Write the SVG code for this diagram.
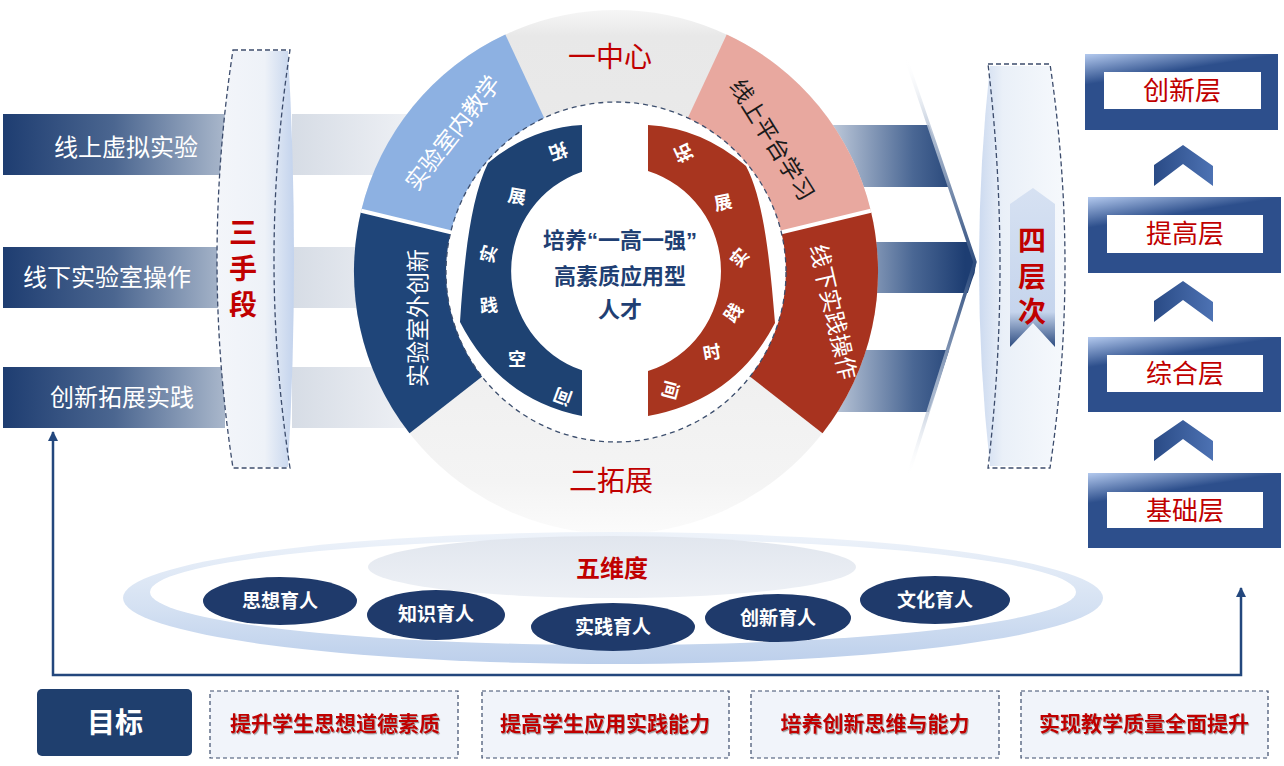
<svg xmlns="http://www.w3.org/2000/svg" width="1284" height="766" viewBox="0 0 1284 766">
<defs>
<style>
.cjk{font-family:"Liberation Sans","Noto Sans CJK SC",sans-serif;}
.wt{fill:#ffffff;}
.rd{fill:#c00000;}
.nv{fill:#1f3f73;}
.c{text-anchor:middle;dominant-baseline:central;}
.b{font-weight:bold;}
</style>
<linearGradient id="gLeftBar" gradientUnits="userSpaceOnUse" x1="3" y1="0" x2="225" y2="0">
<stop offset="0" stop-color="#1e3d71"/><stop offset="0.5" stop-color="#4b6690"/><stop offset="1" stop-color="#a9b7cb"/>
</linearGradient>
<linearGradient id="gGrayBar" gradientUnits="userSpaceOnUse" x1="292" y1="0" x2="420" y2="0">
<stop offset="0" stop-color="#d6dce5"/><stop offset="1" stop-color="#f0f2f6"/>
</linearGradient>
<linearGradient id="gRightBar" gradientUnits="userSpaceOnUse" x1="835" y1="0" x2="965" y2="0">
<stop offset="0" stop-color="#b9c5d7"/><stop offset="0.6" stop-color="#4a6794"/><stop offset="1" stop-color="#1d3d72"/>
</linearGradient>
<linearGradient id="gEdge" gradientUnits="userSpaceOnUse" x1="0" y1="58" x2="0" y2="476">
<stop offset="0" stop-color="#ffffff" stop-opacity="0"/><stop offset="0.2" stop-color="#a9b8ce"/><stop offset="0.5" stop-color="#2b4a7c"/><stop offset="0.8" stop-color="#a9b8ce"/><stop offset="1" stop-color="#ffffff" stop-opacity="0"/>
</linearGradient>
<linearGradient id="gRing" gradientUnits="userSpaceOnUse" x1="0" y1="10" x2="0" y2="534">
<stop offset="0" stop-color="#f6f6f6"/><stop offset="0.05" stop-color="#e8e8e8"/><stop offset="0.5" stop-color="#ececec"/><stop offset="0.9" stop-color="#f4f4f4"/><stop offset="1" stop-color="#fbfbfb"/>
</linearGradient>
<linearGradient id="gLensL" gradientUnits="userSpaceOnUse" x1="210" y1="0" x2="294" y2="0">
<stop offset="0" stop-color="#f4f6fa"/><stop offset="0.65" stop-color="#eef2f8"/><stop offset="1" stop-color="#c3d3ed"/>
</linearGradient>
<linearGradient id="gLensR" gradientUnits="userSpaceOnUse" x1="972" y1="0" x2="1060" y2="0">
<stop offset="0" stop-color="#c3d3ed"/><stop offset="0.35" stop-color="#eaf0f8"/><stop offset="1" stop-color="#f5f8fc"/>
</linearGradient>
<linearGradient id="gUpArrow" x1="0" y1="0" x2="0" y2="1">
<stop offset="0" stop-color="#d6e1f2"/><stop offset="0.78" stop-color="#c6d5ed"/><stop offset="1" stop-color="#2c4b80"/>
</linearGradient>
<linearGradient id="gBox" x1="0" y1="0" x2="0.14" y2="0.35">
<stop offset="0" stop-color="#b3c9ee"/><stop offset="1" stop-color="#2d4f8c"/>
</linearGradient>
<linearGradient id="gChev" x1="0" y1="0" x2="1" y2="0">
<stop offset="0" stop-color="#2a4b86"/><stop offset="1" stop-color="#4d72b3"/>
</linearGradient>
<linearGradient id="gOuterEll" x1="0" y1="0" x2="0" y2="1">
<stop offset="0" stop-color="#eef3fa"/><stop offset="0.6" stop-color="#d3e0f2"/><stop offset="1" stop-color="#bccfeb"/>
</linearGradient>
<linearGradient id="gWei" x1="0" y1="0" x2="0" y2="1">
<stop offset="0" stop-color="#e1e6ee"/><stop offset="1" stop-color="#eef1f6"/>
</linearGradient>
<clipPath id="clipArrow">
<path d="M820,58 L906,58 L972,252 Q979,266 972,280 L908,476 L820,476 Z"/>
</clipPath>
<filter id="sh" x="-10%" y="-30%" width="120%" height="160%">
<feDropShadow dx="1" dy="1.2" stdDeviation="0.6" flood-color="#555555" flood-opacity="0.55"/>
</filter>
<marker id="ah" viewBox="0 0 10 10" refX="9" refY="5" markerWidth="11" markerHeight="10" markerUnits="userSpaceOnUse" orient="auto-start-reverse">
<path d="M0,0 L10,5 L0,10 Z" fill="#23477d"/>
</marker>
</defs>

<rect x="0" y="0" width="1284" height="766" fill="#ffffff"/>

<!-- background bars (gray extensions behind circle) -->
<g id="bars-back">
<rect x="292" y="114" width="130" height="61" fill="url(#gGrayBar)"/>
<rect x="292" y="247" width="130" height="61" fill="url(#gGrayBar)"/>
<rect x="292" y="367" width="130" height="61" fill="url(#gGrayBar)"/>
<g clip-path="url(#clipArrow)">
<rect x="820" y="125" width="170" height="62" fill="url(#gRightBar)"/>
<rect x="820" y="242" width="170" height="51" fill="url(#gRightBar)"/>
<rect x="820" y="350" width="170" height="62" fill="url(#gRightBar)"/>
</g>
<polyline points="906,58 975,262 908,476" fill="none" stroke="url(#gEdge)" stroke-width="3.5" stroke-linejoin="round"/>
</g>

<!-- left means -->
<g id="means-online" class="cjk">
<rect x="3" y="114" width="222" height="61" fill="url(#gLeftBar)"/>
<text x="126" y="147" class="c wt" font-size="24">线上虚拟实验</text>
</g>
<g id="means-offline" class="cjk">
<rect x="3" y="247" width="222" height="61" fill="url(#gLeftBar)"/>
<text x="107" y="277" class="c wt" font-size="24">线下实验室操作</text>
</g>
<g id="means-innov" class="cjk">
<rect x="3" y="367" width="222" height="61" fill="url(#gLeftBar)"/>
<text x="122" y="397" class="c wt" font-size="24">创新拓展实践</text>
</g>

<g id="lens-three" class="cjk">
<path d="M233,51 Q201,260 233,467 L288,467 Q300,260 288,51 Z" fill="url(#gLensL)"/>
<path d="M233,50 L290,50 Q258,260 290,468 L233,468 Q201,260 233,50 Z" fill="none" stroke="#3c4c6c" stroke-width="1.3" stroke-dasharray="5,3"/>
<text class="c rd b" font-size="28"><tspan x="243" y="233">三</tspan><tspan x="243" y="269">手</tspan><tspan x="243" y="305">段</tspan></text>
</g>

<!-- central circle -->
<g id="ring" class="cjk">
<circle cx="616" cy="272" r="262" fill="url(#gRing)"/>
<path d="M616,272 L409.5,433.3 A262,262 0 0 1 361.2,210.8 Z" fill="#1f4579"/>
<path d="M616,272 L361.2,210.8 A262,262 0 0 1 505.3,34.5 Z" fill="#8db1e2"/>
<path d="M616,272 L726.7,34.5 A262,262 0 0 1 870.8,210.8 Z" fill="#e8a89f"/>
<path d="M616,272 L870.8,210.8 A262,262 0 0 1 822.5,433.3 Z" fill="#a8331f"/>
<line x1="616" y1="272" x2="361.2" y2="210.8" stroke="#ffffff" stroke-width="4"/>
<line x1="616" y1="272" x2="870.8" y2="210.8" stroke="#ffffff" stroke-width="4"/>
<text x="610" y="57" class="c rd" font-size="28">一中心</text>
<text x="611" y="481" class="c rd" font-size="28">二拓展</text>
<text transform="translate(453,133) rotate(-52)" class="c wt" font-size="23">实验室内教学</text>
<text transform="translate(418,318) rotate(-90)" class="c wt" font-size="23">实验室外创新</text>
<text transform="translate(772,140) rotate(58)" class="c" fill="#1a1a1a" font-size="23">线上平台学习</text>
<text transform="translate(833,312) rotate(77)" class="c wt" font-size="23">线下实践操作</text>
</g>

<g id="center" class="cjk">
<circle cx="616" cy="272" r="170" fill="#ffffff" stroke="#3d4f6e" stroke-width="1.3" stroke-dasharray="5,4"/>
<text x="620" y="240" class="c nv b" font-size="22">培养“一高一强”</text>
<text x="620" y="276" class="c nv b" font-size="22">高素质应用型</text>
<text x="620" y="309" class="c nv b" font-size="22">人才</text>
</g>

<g id="space-arc" class="cjk">
<path d="M582,125 Q530,128 488,163 C470,200 464,262 460,322 Q500,400 582,416 L582,370.3 A105,105 0 0 1 582,171.7 Z" fill="#1e4272"/>
<g class="wt b" font-size="18">
<text transform="translate(558,151) rotate(160)" class="c">拓</text>
<text transform="translate(517,197) rotate(10)" class="c">展</text>
<text transform="translate(489,254) rotate(-75)" class="c">实</text>
<text transform="translate(489,306) rotate(-5)" class="c">践</text>
<text transform="translate(517,360) rotate(0)" class="c">空</text>
<text transform="translate(563,396) rotate(-160)" class="c">间</text>
</g>
</g>

<g id="time-arc" class="cjk">
<path d="M648,125 Q702,128 746,166 C764,200 770,262 775,323 Q735,400 648,416 L648,371 A105,105 0 0 0 648,171 Z" fill="#a8351f"/>
<g class="wt b" font-size="18">
<text transform="translate(684,153) rotate(-115)" class="c">拓</text>
<text transform="translate(723,203) rotate(-12)" class="c">展</text>
<text transform="translate(740,258) rotate(-50)" class="c">实</text>
<text transform="translate(734,313) rotate(-55)" class="c">践</text>
<text transform="translate(712,353) rotate(-10)" class="c">时</text>
<text transform="translate(670,390) rotate(105)" class="c">间</text>
</g>
</g>

<!-- four levels lens -->
<g id="lens-four" class="cjk">
<path d="M990,66 Q968,266 990,466 L1050,466 Q1080,266 1050,66 Z" fill="url(#gLensR)"/>
<path d="M988,64 L1050,64 Q1080,266 1050,468 L988,468 Q1012,266 988,64 Z" fill="none" stroke="#3c4c6c" stroke-width="1.3" stroke-dasharray="5,3"/>
<path d="M1033,188 L1055,204 L1055,347 L1033,323 L1010,347 L1010,204 Z" fill="url(#gUpArrow)"/>
<text class="c rd b" font-size="28"><tspan x="1032" y="241">四</tspan><tspan x="1032" y="277">层</tspan><tspan x="1032" y="312">次</tspan></text>
</g>

<!-- level boxes -->
<g id="level-innov" class="cjk">
<rect x="1085" y="54" width="193" height="76" fill="url(#gBox)"/>
<rect x="1104" y="72" width="157" height="37" fill="#ffffff"/>
<text x="1182" y="91" class="c rd" font-size="26">创新层</text>
</g>
<g id="level-improve" class="cjk">
<rect x="1088" y="197" width="193" height="76" fill="url(#gBox)"/>
<rect x="1107" y="215" width="156" height="38" fill="#ffffff"/>
<text x="1185" y="234" class="c rd" font-size="26">提高层</text>
</g>
<g id="level-comp" class="cjk">
<rect x="1088" y="337" width="193" height="75" fill="url(#gBox)"/>
<rect x="1107" y="355" width="156" height="37" fill="#ffffff"/>
<text x="1185" y="374" class="c rd" font-size="26">综合层</text>
</g>
<g id="level-base" class="cjk">
<rect x="1088" y="473" width="193" height="75" fill="url(#gBox)"/>
<rect x="1107" y="492" width="156" height="36" fill="#ffffff"/>
<text x="1185" y="511" class="c rd" font-size="26">基础层</text>
</g>
<g id="chevrons">
<path d="M1154,165 L1183,145 L1213,166 L1213,186 L1183,164 L1154,186 Z" fill="url(#gChev)"/>
<path d="M1154,301 L1183,281 L1213,302 L1213,322 L1183,300 L1154,322 Z" fill="url(#gChev)"/>
<path d="M1154,440 L1183,420 L1213,441 L1213,461 L1183,439 L1154,461 Z" fill="url(#gChev)"/>
</g>

<!-- five dimensions -->
<g id="five-dims" class="cjk">
<ellipse cx="613" cy="598" rx="490" ry="66" fill="url(#gOuterEll)"/>
<ellipse cx="613" cy="592" rx="463" ry="53" fill="#ffffff"/>
<ellipse cx="612" cy="567" rx="244" ry="31" fill="url(#gWei)"/>
<text x="612" y="568" class="c rd b" font-size="24">五维度</text>
</g>
<g id="dim-1" class="cjk"><ellipse cx="280" cy="601" rx="77" ry="24" fill="#1f3a6b"/><text x="280" y="601" class="c wt b" font-size="19">思想育人</text></g>
<g id="dim-2" class="cjk"><ellipse cx="436" cy="615" rx="69" ry="25" fill="#1f3a6b"/><text x="436" y="614" class="c wt b" font-size="19">知识育人</text></g>
<g id="dim-3" class="cjk"><ellipse cx="613" cy="627" rx="82" ry="24" fill="#1f3a6b"/><text x="613" y="627" class="c wt b" font-size="19">实践育人</text></g>
<g id="dim-4" class="cjk"><ellipse cx="778" cy="618" rx="73" ry="24" fill="#1f3a6b"/><text x="778" y="618" class="c wt b" font-size="19">创新育人</text></g>
<g id="dim-5" class="cjk"><ellipse cx="935" cy="600" rx="75" ry="24" fill="#1f3a6b"/><text x="935" y="600" class="c wt b" font-size="19">文化育人</text></g>

<!-- connectors -->
<g id="connectors" fill="none" stroke="#23477d" stroke-width="2.5">
<path d="M53,432 L53,675 L1241,675 L1241,588" marker-start="url(#ah)" marker-end="url(#ah)"/>
</g>

<!-- goals -->
<g id="goal-title" class="cjk">
<rect x="37" y="689" width="155" height="67" rx="5" fill="#1f3f6e"/>
<text x="115" y="723" class="c wt b" font-size="28">目标</text>
</g>
<g id="goal-1" class="cjk">
<rect x="210" y="691" width="248" height="67" fill="#f1f4fa" stroke="#3c4c6c" stroke-width="1.2" stroke-dasharray="4,3"/>
<text x="335" y="723" class="c rd b" font-size="21" filter="url(#sh)">提升学生思想道德素质</text>
</g>
<g id="goal-2" class="cjk">
<rect x="482" y="691" width="247" height="67" fill="#f1f4fa" stroke="#3c4c6c" stroke-width="1.2" stroke-dasharray="4,3"/>
<text x="605" y="723" class="c rd b" font-size="21" filter="url(#sh)">提高学生应用实践能力</text>
</g>
<g id="goal-3" class="cjk">
<rect x="751" y="691" width="248" height="67" fill="#f1f4fa" stroke="#3c4c6c" stroke-width="1.2" stroke-dasharray="4,3"/>
<text x="875" y="723" class="c rd b" font-size="21" filter="url(#sh)">培养创新思维与能力</text>
</g>
<g id="goal-4" class="cjk">
<rect x="1021" y="691" width="247" height="67" fill="#f1f4fa" stroke="#3c4c6c" stroke-width="1.2" stroke-dasharray="4,3"/>
<text x="1144" y="723" class="c rd b" font-size="21" filter="url(#sh)">实现教学质量全面提升</text>
</g>
</svg>
